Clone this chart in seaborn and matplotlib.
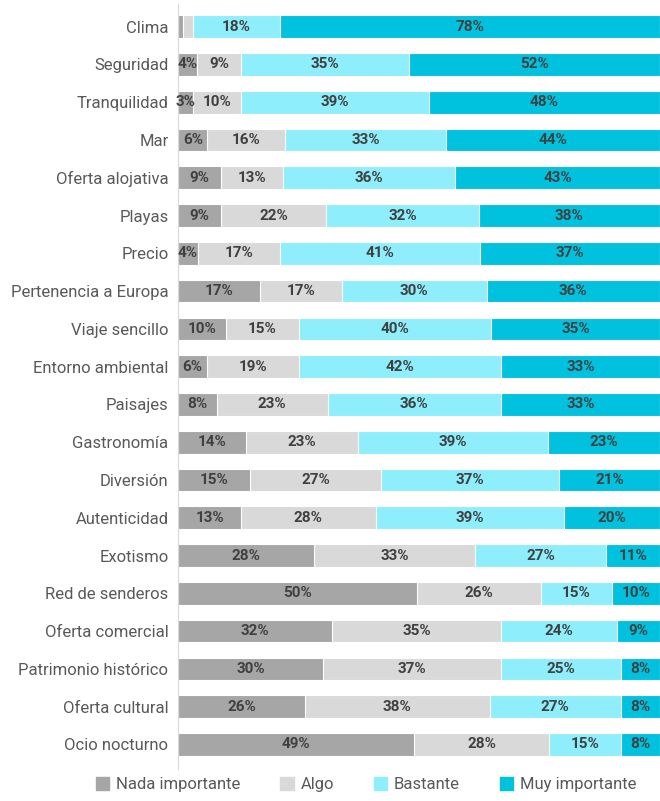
import numpy as np
import pandas as pd
import seaborn as sns
import matplotlib.pyplot as plt

categorias = ["Clima", "Seguridad", "Tranquilidad", "Mar", "Oferta alojativa", "Playas",
              "Precio", "Pertenencia a Europa", "Viaje sencillo", "Entorno ambiental",
              "Paisajes", "Gastronomía", "Diversión", "Autenticidad", "Exotismo",
              "Red de senderos", "Oferta comercial", "Patrimonio histórico",
              "Oferta cultural", "Ocio nocturno"]
nada = [1, 4, 3, 6, 9, 9, 4, 17, 10, 6, 8, 14, 15, 13, 28, 50, 32, 30, 26, 49]
algo = [2, 9, 10, 16, 13, 22, 17, 17, 15, 19, 23, 23, 27, 28, 33, 26, 35, 37, 38, 28]
bastante = [18, 35, 39, 33, 36, 32, 41, 30, 40, 42, 36, 39, 37, 39, 27, 15, 24, 25, 27, 15]
muy = [78, 52, 48, 44, 43, 38, 37, 36, 35, 33, 33, 23, 21, 20, 11, 10, 9, 8, 8, 8]
series = ["Nada importante", "Algo", "Bastante", "Muy importante"]
colores = ["#a6a6a6", "#d9d9d9", "#8eeefb", "#00c2de"]

sns.set_style("white")
plt.rcParams['font.family'] = ['Roboto', 'DejaVu Sans']

df = pd.DataFrame({"cat": categorias, series[0]: nada, series[1]: algo,
                   series[2]: bastante, series[3]: muy})
vals = df[series].astype(float)
vals = vals.div(vals.sum(axis=1), axis=0) * 100
cum = vals.cumsum(axis=1)

fig, ax = plt.subplots(figsize=(6.6, 8.01), dpi=100)

# barras apiladas: se dibujan los acumulados del mas largo al mas corto
for s, c in reversed(list(zip(series, colores))):
    sns.barplot(x=cum[s], y=df["cat"], color=c, orient="h", width=0.6,
                saturation=1, edgecolor="white", linewidth=0.8, ax=ax)

raw = df[series]
for i in range(len(df)):
    for j, s in enumerate(series):
        v = raw.iloc[i, j]
        w = vals.iloc[i, j]
        if v <= 2:
            continue
        centro = cum.iloc[i, j] - w / 2
        ax.text(centro, i, "{}%".format(v), ha="center", va="center",
                fontsize=11, fontweight="bold", color="#404040")

ax.set_xlim(0, 100)
ax.set_ylim(len(df) - 0.35, -0.6)
ax.set_xlabel("")
ax.set_ylabel("")
ax.set_xticks([])
ax.tick_params(axis="y", labelsize=12, labelcolor="#595959", length=0, pad=7)
for sp in ["top", "right", "bottom"]:
    ax.spines[sp].set_visible(False)
ax.spines["left"].set_color("#d9d9d9")

handles = [plt.Rectangle((0, 0), 1, 1, color=c) for c in colores]
fig.legend(handles, series, loc="lower center", bbox_to_anchor=(0.555, -0.008),
           ncol=4, frameon=False, fontsize=12, handlelength=0.8, handleheight=0.8,
           columnspacing=2.4, handletextpad=0.4, labelcolor="#595959")

fig.subplots_adjust(left=0.27, right=1.0, top=0.995, bottom=0.04)
plt.savefig("out.png", dpi=100)
